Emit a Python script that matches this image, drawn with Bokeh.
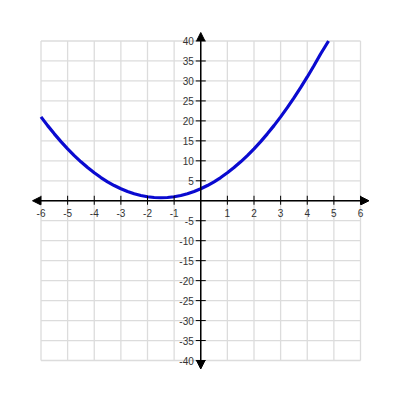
from bokeh.plotting import figure
from bokeh.models import Range1d, Arrow, NormalHead
from bokeh.core.properties import value
from bokeh.embed import file_html
from bokeh.resources import INLINE

# data
curve_x = [-6, -5.75, -5.5, -5.25, -5, -4.75, -4.5, -4.25, -4, -3.75, -3.5, -3.25,
           -3, -2.75, -2.5, -2.25, -2, -1.75, -1.5, -1.25, -1, -0.75, -0.5, -0.25,
           0, 0.25, 0.5, 0.75, 1, 1.25, 1.5, 1.75, 2, 2.25, 2.5, 2.75, 3, 3.25,
           3.5, 3.75, 4, 4.25, 4.5, 4.8]
curve_y = [21, 18.81, 16.75, 14.81, 13, 11.31, 9.75, 8.31, 7, 5.81, 4.75, 3.81,
           3, 2.31, 1.75, 1.31, 1, 0.81, 0.75, 0.81, 1, 1.31, 1.75, 2.31,
           3, 3.81, 4.75, 5.81, 7, 8.31, 9.75, 11.31, 13, 14.81, 16.75, 18.81, 21, 23.31,
           25.75, 28.31, 31, 33.81, 36.75, 40]
x_ticks = [-6, -5, -4, -3, -2, -1, 1, 2, 3, 4, 5, 6]
x_labels = ["-6", "-5", "-4", "-3", "-2", "-1", "1", "2", "3", "4", "5", "6"]
y_ticks = [-40, -35, -30, -25, -20, -15, -10, -5, 5, 10, 15, 20, 25, 30, 35, 40]
y_labels = ["-40", "-35", "-30", "-25", "-20", "-15", "-10", "-5",
            "5", "10", "15", "20", "25", "30", "35", "40"]
x_grid = [-6, -5, -4, -3, -2, -1, 0, 1, 2, 3, 4, 5, 6]
y_grid = [-40, -35, -30, -25, -20, -15, -10, -5, 0, 5, 10, 15, 20, 25, 30, 35, 40]
x_lim = (-6, 6)
y_lim = (-40, 40)

W = H = 392
px_x = 319.5 / 12.0   # pixels per x unit
px_y = 319.5 / 80.0   # pixels per y unit
p = figure(width=W, height=H, output_backend="svg", toolbar_location=None,
           x_range=Range1d(x_lim[0] - 40.5 / px_x, x_lim[1] + 32 / px_x),
           y_range=Range1d(y_lim[0] - 32 / px_y, y_lim[1] + 40.5 / px_y),
           x_axis_type=None, y_axis_type=None, min_border=0)
p.grid.visible = False
p.outline_line_color = None
p.background_fill_color = "white"

grid_color = "#dcdcdc"
p.segment(x0=x_grid, y0=[y_lim[0]] * len(x_grid), x1=x_grid, y1=[y_lim[1]] * len(x_grid),
          line_color=grid_color, line_width=1.3)
p.segment(x0=[x_lim[0]] * len(y_grid), y0=y_grid, x1=[x_lim[1]] * len(y_grid), y1=y_grid,
          line_color=grid_color, line_width=1.3)

p.line(curve_x, curve_y, line_color="#0a0ad0", line_width=3.2)

over_x = 8.5 / px_x
over_y = 8.5 / px_y
head = dict(size=8, fill_color="black", line_color="black")
p.add_layout(Arrow(start=NormalHead(**head), end=NormalHead(**head),
                   x_start=x_lim[0] - over_x, y_start=0, x_end=x_lim[1] + over_x, y_end=0,
                   line_width=1.5, line_color="black"))
p.add_layout(Arrow(start=NormalHead(**head), end=NormalHead(**head),
                   x_start=0, y_start=y_lim[0] - over_y, x_end=0, y_end=y_lim[1] + over_y,
                   line_width=1.5, line_color="black"))

# tick marks
p.segment(x0=x_ticks, y0=[-4 / px_y] * len(x_ticks), x1=x_ticks, y1=[5 / px_y] * len(x_ticks),
          line_color="black", line_width=1)
p.segment(x0=[-5 / px_x] * len(y_ticks), y0=y_ticks, x1=[5 / px_x] * len(y_ticks), y1=y_ticks,
          line_color="black", line_width=1)

# tick labels
p.text(x=x_ticks, y=[0] * len(x_ticks), text=x_labels, y_offset=8,
       text_align="center", text_baseline="top", text_font=value("Liberation Sans"),
       text_font_size="10px", text_color="#333333")
p.text(x=[0] * len(y_ticks), y=y_ticks, text=y_labels, x_offset=-7,
       text_align="right", text_baseline="middle", text_font=value("Liberation Sans"),
       text_font_size="10px", text_color="#333333")

open("out.html", "w").write(file_html(p, INLINE))
